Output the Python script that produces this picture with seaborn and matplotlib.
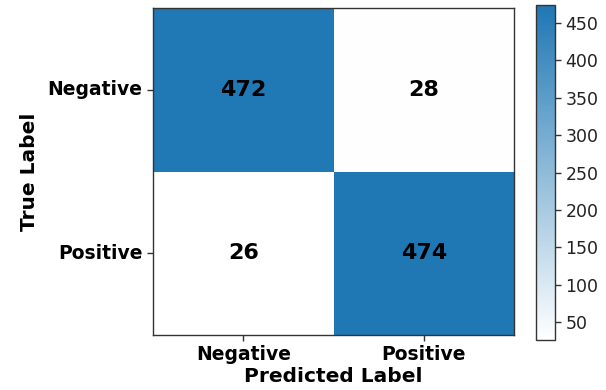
import numpy as np
import pandas as pd
import seaborn as sns
import matplotlib
matplotlib.use("Agg")
import matplotlib.pyplot as plt
from matplotlib.colors import LinearSegmentedColormap

# Confusion matrix counts (rows: true class, columns: predicted class)
class_names = ["Negative", "Positive"]
row_negative = [472, 28]
row_positive = [26, 474]
cbar_ticks = [50, 100, 150, 200, 250, 300, 350, 400, 450]

cm = pd.DataFrame([row_negative, row_positive], index=class_names, columns=class_names)

sns.set_style("white")
plt.rcParams["font.family"] = ["DejaVu Sans"]
plt.rcParams["text.color"] = "black"
plt.rcParams["axes.labelcolor"] = "black"

cmap = LinearSegmentedColormap.from_list("white_blue", ["#ffffff", "#1f77b4"])

fig = plt.figure(figsize=(6.06, 3.90), dpi=100)
ax = fig.add_axes([0.2525, 0.141, 0.5957, 0.8385])
cax = fig.add_axes([0.8845, 0.128, 0.0314, 0.859])

sns.heatmap(cm, ax=ax, cbar_ax=cax, cmap=cmap,
            vmin=cm.values.min(), vmax=cm.values.max(),
            annot=True, fmt="d", square=False,
            annot_kws={"fontsize": 16, "fontweight": "bold", "color": "black"})

for spine in ax.spines.values():
    spine.set_visible(True)
    spine.set_color("#333333")
    spine.set_linewidth(1.0)

ax.tick_params(axis="both", which="both", length=4, width=1, color="#333333",
               bottom=True, left=True, labelcolor="black")
ax.set_xticklabels(class_names, fontsize=13.5, fontweight="bold", rotation=0)
ax.set_yticklabels(class_names, fontsize=13.5, fontweight="bold", rotation=0)
ax.set_xlabel("Predicted Label", fontsize=14.5, fontweight="bold", labelpad=2)
ax.set_ylabel("True Label", fontsize=14.5, fontweight="bold", labelpad=6)

cbar = ax.collections[0].colorbar
cbar.outline.set_visible(True)
cbar.outline.set_linewidth(1.0)
cbar.outline.set_edgecolor("#333333")
cbar.set_ticks(cbar_ticks)
cax.tick_params(labelsize=12.5, length=4, width=1, color="#333333", labelcolor="#222222")

fig.savefig("out.png", dpi=100)
